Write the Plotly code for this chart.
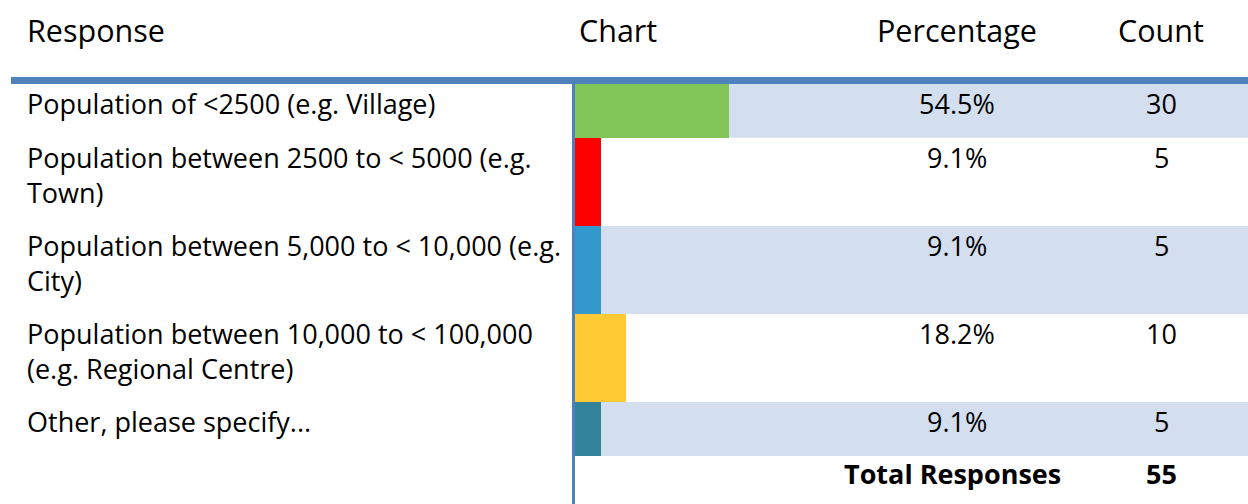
import plotly.graph_objects as go

# ---------------- data ----------------
headers = ["Response", "Chart", "Percentage", "Count"]
responses = [
    "Population of &lt;2500 (e.g. Village)",
    "Population between 2500 to &lt; 5000 (e.g.<br>Town)",
    "Population between 5,000 to &lt; 10,000 (e.g.<br>City)",
    "Population between 10,000 to &lt; 100,000<br>(e.g. Regional Centre)",
    "Other, please specify...",
]
counts = [30, 5, 5, 10, 5]
bar_colors = ["#82C65A", "#FF0000", "#3399CC", "#FFCA33", "#33839A"]
total_label = "Total Responses"

total = sum(counts)
pct = [c / total * 100 for c in counts]
pct_text = [f"{p:.1f}%" for p in pct]

# ---------------- layout geometry ----------------
W, H = 1248, 504
FONT = "Open Sans"
FS = 27
FS_HEAD = 30.5
BLUE = "#4F81BD"
STRIPE = "#D3DFEE"

TABLE_TOP = 84
ROW_BASE = 19.5
LINE_H = 34.3
n_lines = [r.count("<br>") + 1 for r in responses]
row_h = [ROW_BASE + LINE_H * n for n in n_lines]
row_top = []
y = TABLE_TOP
for h in row_h:
    row_top.append(y)
    y += h
total_top = y
row_mid = [t + h / 2 for t, h in zip(row_top, row_h)]

BAR_X0 = 575
BAR_FULL = 283  # pixels for 100 %
X_RESP = 24.5
X_CHART = 576.5
X_PCT = 957
X_CNT = 1161


def px(x):
    return x / W


fig = go.Figure()

fig.add_trace(go.Bar(
    x=pct,
    y=row_mid,
    width=row_h,
    base=0,
    orientation="h",
    marker=dict(color=bar_colors, line=dict(width=0)),
    hoverinfo="skip",
    showlegend=False,
))

shapes = []
# striped rows
for i, (t, h) in enumerate(zip(row_top, row_h)):
    if i % 2 == 0:
        shapes.append(dict(type="rect", xref="paper", yref="y",
                           x0=px(BAR_X0), x1=1, y0=t, y1=t + h,
                           fillcolor=STRIPE, line=dict(width=0), layer="below"))
# header rule
shapes.append(dict(type="rect", xref="paper", yref="y",
                   x0=px(11), x1=1, y0=77, y1=TABLE_TOP,
                   fillcolor=BLUE, line=dict(width=0), layer="above"))
# vertical rule
shapes.append(dict(type="rect", xref="paper", yref="y",
                   x0=px(572), x1=px(575), y0=TABLE_TOP, y1=H,
                   fillcolor=BLUE, line=dict(width=0), layer="above"))

ann = []
font = dict(family=FONT, size=FS, color="#000000")
hfont = dict(family=FONT, size=FS_HEAD, color="#000000")
# headers
for text, x, anchor in zip(headers, [X_RESP, X_CHART, X_PCT, X_CNT],
                           ["left", "left", "center", "center"]):
    ann.append(dict(text=text, x=px(x), y=30, xref="paper", yref="y",
                    xanchor=anchor, yanchor="middle", showarrow=False, font=hfont))
# rows
for i in range(len(responses)):
    t = row_top[i]
    ann.append(dict(text=responses[i], x=px(X_RESP), y=t - 1, xref="paper", yref="y",
                    xanchor="left", yanchor="top", align="left", showarrow=False, font=font))
    ann.append(dict(text=pct_text[i], x=px(X_PCT), y=t - 1, xref="paper", yref="y",
                    xanchor="center", yanchor="top", showarrow=False, font=font))
    ann.append(dict(text=str(counts[i]), x=px(X_CNT), y=t - 1, xref="paper", yref="y",
                    xanchor="center", yanchor="top", showarrow=False, font=font))
# total row
ann.append(dict(text=f"<b>{total_label}</b>", x=px(X_PCT - 4), y=total_top - 3,
                xref="paper", yref="y", xanchor="center", yanchor="top",
                showarrow=False, font=font))
ann.append(dict(text=f"<b>{total}</b>", x=px(X_CNT), y=total_top - 3,
                xref="paper", yref="y", xanchor="center", yanchor="top",
                showarrow=False, font=font))

fig.update_layout(
    width=W, height=H,
    margin=dict(l=0, r=0, t=0, b=0),
    paper_bgcolor="white", plot_bgcolor="rgba(0,0,0,0)",
    xaxis=dict(domain=[px(BAR_X0), px(BAR_X0 + BAR_FULL)], range=[0, 100],
               visible=False, fixedrange=True),
    yaxis=dict(domain=[0, 1], range=[H, 0], visible=False, fixedrange=True),
    bargap=0,
    shapes=shapes,
    annotations=ann,
    hovermode=False,
)

fig.write_html("out.html", config={"displayModeBar": False},
               post_script="document.body.style.margin='0';document.body.style.overflow='hidden';")
